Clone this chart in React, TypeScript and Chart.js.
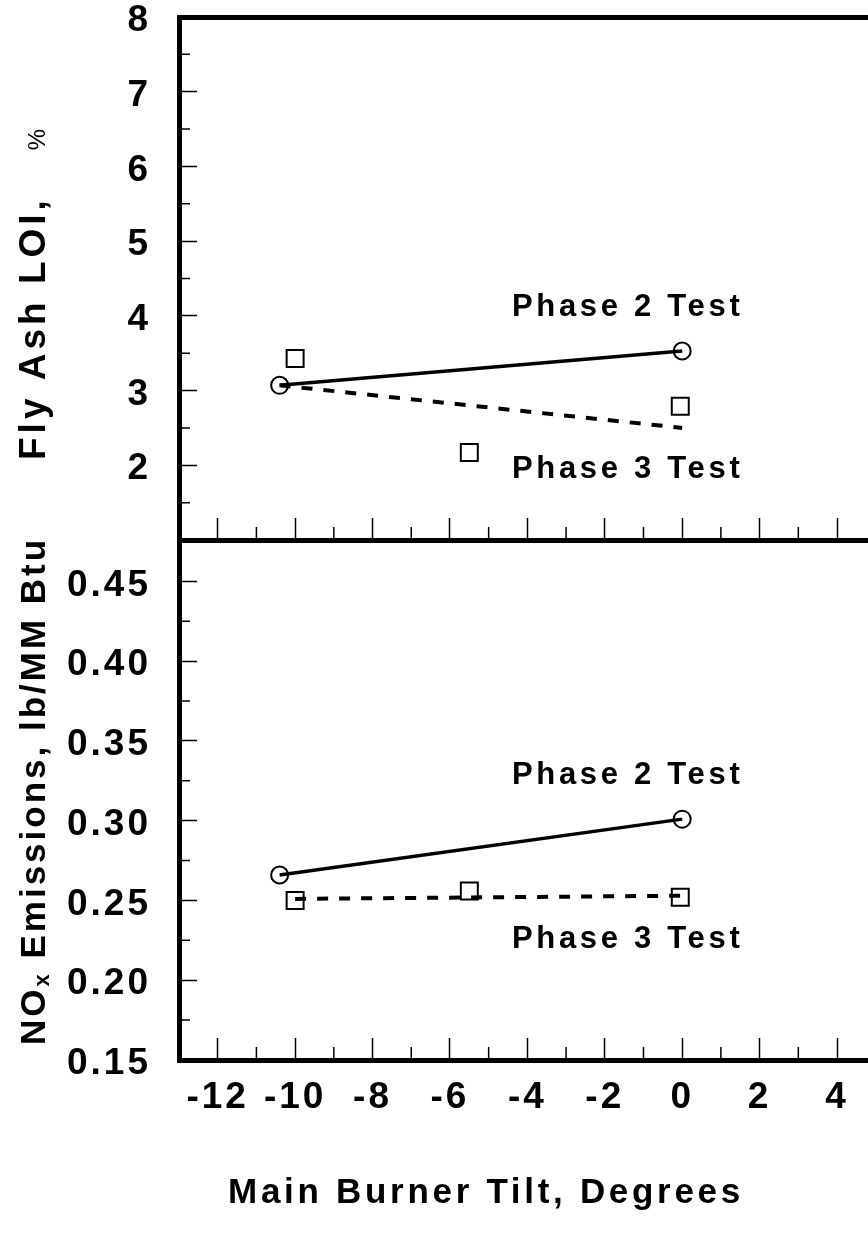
import React, { useEffect, useRef } from 'react';
import { Chart, registerables } from 'chart.js';

Chart.register(...registerables);

const FONT = "'Liberation Sans', Arial, Helvetica, sans-serif";

// ---------- axis ranges & ticks ----------
const X_MIN = -13;
const X_MAX = 4.8;
const xTickValues = [-12, -10, -8, -6, -4, -2, 0, 2, 4];
const xTickLabels = ['-12', '-10', '-8', '-6', '-4', '-2', '0', '2', '4'];
const xMinorTicks = [-11, -9, -7, -5, -3, -1, 1, 3];

const LOI_MIN = 1;
const LOI_MAX = 8;
const loiTickValues = [2, 3, 4, 5, 6, 7, 8];
const loiTickLabels = ['2', '3', '4', '5', '6', '7', '8'];
const loiMinorTicks = [1.5, 2.5, 3.5, 4.5, 5.5, 6.5, 7.5];

const NOX_MIN = 0.15;
const NOX_MAX = 0.476;
const noxTickValues = [0.15, 0.2, 0.25, 0.3, 0.35, 0.4, 0.45];
const noxTickLabels = ['0.15', '0.20', '0.25', '0.30', '0.35', '0.40', '0.45'];
const noxMinorTicks = [0.175, 0.225, 0.275, 0.325, 0.375, 0.425];

// ---------- data: Fly ash LOI (%) ----------
const loiPhase2Tilt = [-10.4, 0];
const loiPhase2 = [3.07, 3.53];
const loiPhase3Tilt = [-10, -5.5, -0.05];
const loiPhase3 = [3.43, 2.17, 2.79];
const loiPhase3FitTilt = [-10.4, 0];
const loiPhase3Fit = [3.07, 2.5];

// ---------- data: NOx (lb/MM Btu) ----------
const noxPhase2Tilt = [-10.4, 0];
const noxPhase2 = [0.266, 0.301];
const noxPhase3Tilt = [-10, -5.5, -0.05];
const noxPhase3 = [0.25, 0.256, 0.252];
const noxPhase3FitTilt = [-10, 0];
const noxPhase3Fit = [0.251, 0.253];

// ---------- text labels ----------
const loiNotes = [
  { text: 'Phase 2 Test', x: -4.4, y: 4.0 },
  { text: 'Phase 3 Test', x: -4.4, y: 1.83 },
];
const noxNotes = [
  { text: 'Phase 2 Test', x: -4.4, y: 0.323 },
  { text: 'Phase 3 Test', x: -4.4, y: 0.22 },
];

const pts = (xs: number[], ys: number[]) => xs.map((x, i) => ({ x, y: ys[i] }));

const spacingPlugin = {
  id: 'spacing',
  beforeDraw(chart: any) {
    chart.ctx.letterSpacing = '3px';
  },
};

const minorTicksPlugin = {
  id: 'minorTicks',
  afterDraw(chart: any, _a: any, opts: any) {
    const { ctx, chartArea } = chart;
    const xs = chart.scales.x;
    const ys = chart.scales.y;
    ctx.save();
    ctx.strokeStyle = '#000';
    ctx.lineWidth = 1.5;
    ctx.beginPath();
    for (const v of opts.x) {
      const px = xs.getPixelForValue(v);
      ctx.moveTo(px, chartArea.bottom);
      ctx.lineTo(px, chartArea.bottom - opts.xLen);
    }
    for (const v of opts.y) {
      const py = ys.getPixelForValue(v);
      ctx.moveTo(chartArea.left, py);
      ctx.lineTo(chartArea.left + opts.yLen, py);
    }
    ctx.stroke();
    ctx.restore();
  },
};

const notesPlugin = {
  id: 'notes',
  afterDatasetsDraw(chart: any, _a: any, opts: any) {
    const { ctx } = chart;
    const xs = chart.scales.x;
    const ys = chart.scales.y;
    ctx.save();
    ctx.letterSpacing = '3.7px';
    ctx.font = `bold 31px ${FONT}`;
    ctx.fillStyle = '#000';
    ctx.textAlign = 'left';
    ctx.textBaseline = 'alphabetic';
    for (const n of opts.items) {
      ctx.fillText(n.text, xs.getPixelForValue(n.x), ys.getPixelForValue(n.y));
    }
    ctx.restore();
  },
};

// draws axis titles; "start" anchoring puts the beginning of the text at (x, y)
const titlesPlugin = {
  id: 'titles',
  afterDraw(chart: any, _a: any, opts: any) {
    const { ctx } = chart;
    ctx.save();
    ctx.fillStyle = '#000';
    ctx.textAlign = 'left';
    ctx.textBaseline = 'alphabetic';
    for (const t of opts.items) {
      const widths: number[] = [];
      let total = 0;
      for (const s of t.segments) {
        ctx.font = s.font;
        ctx.letterSpacing = s.spacing;
        const w = ctx.measureText(s.text).width + (s.dx || 0);
        widths.push(w);
        total += w;
      }
      ctx.save();
      ctx.translate(t.x, t.y);
      if (t.rotate) ctx.rotate(-Math.PI / 2);
      let x = t.align === 'start' ? 0 : -total / 2;
      t.segments.forEach((s: any, i: number) => {
        ctx.font = s.font;
        ctx.letterSpacing = s.spacing;
        ctx.fillText(s.text, x + (s.dx || 0), s.dy || 0);
        x += widths[i];
      });
      ctx.restore();
    }
    ctx.restore();
  },
};

const tickFont = { family: FONT, size: 37, weight: 'bold' as const, lineHeight: 0.9 };

function xScale(height: number, showLabels: boolean) {
  return {
    type: 'linear',
    position: 'bottom',
    min: X_MIN,
    max: X_MAX,
    afterBuildTicks: (s: any) => {
      s.ticks = xTickValues.map((value) => ({ value }));
    },
    ticks: {
      display: showLabels,
      callback: (_v: any, i: number) => xTickLabels[i],
      font: tickFont,
      color: '#000',
      padding: 43,
      autoSkip: false,
      maxRotation: 0,
      minRotation: 0,
    },
    grid: {
      display: true,
      drawOnChartArea: false,
      drawTicks: true,
      tickLength: -22,
      tickWidth: 1.5,
      tickColor: '#000',
    },
    border: { display: true, width: 5, color: '#000' },
    afterFit: (s: any) => {
      s.height = height;
      s.paddingLeft = 0;
      s.paddingRight = 0;
    },
  };
}

function yScale(min: number, max: number, values: number[], labels: string[]) {
  return {
    type: 'linear',
    position: 'left',
    min,
    max,
    afterBuildTicks: (s: any) => {
      s.ticks = values.map((value) => ({ value }));
    },
    ticks: {
      callback: (_v: any, i: number) => labels[i],
      font: tickFont,
      color: '#000',
      padding: 46,
      labelOffset: 4,
    },
    grid: {
      display: true,
      drawOnChartArea: false,
      drawTicks: true,
      tickLength: -18,
      tickWidth: 1.5,
      tickColor: '#000',
    },
    border: { display: true, width: 5, color: '#000' },
    afterFit: (s: any) => {
      s.width = 179;
      s.paddingTop = 0;
      s.paddingBottom = 0;
    },
  };
}

function datasets(
  p2x: number[], p2y: number[], p3x: number[], p3y: number[], fx: number[], fy: number[]
) {
  return [
    {
      label: 'Phase 2 Test',
      data: pts(p2x, p2y),
      showLine: true,
      borderColor: '#000',
      borderWidth: 3.5,
      pointStyle: 'circle',
      pointRadius: 8.5,
      pointBorderWidth: 2,
      pointBorderColor: '#000',
      pointBackgroundColor: 'rgba(0,0,0,0)',
    },
    {
      label: 'Phase 3 Test',
      data: pts(p3x, p3y),
      showLine: false,
      pointStyle: 'rect',
      pointRadius: 12,
      pointBorderWidth: 2,
      pointBorderColor: '#000',
      pointBackgroundColor: 'rgba(0,0,0,0)',
    },
    {
      label: 'Phase 3 Trend',
      data: pts(fx, fy),
      showLine: true,
      borderColor: '#000',
      borderWidth: 4,
      borderDash: [11, 11],
      pointRadius: 0,
    },
  ];
}

const BOTTOM_TOP = 515;

export default function App() {
  const topRef = useRef<HTMLCanvasElement>(null);
  const botRef = useRef<HTMLCanvasElement>(null);

  useEffect(() => {
    const top = new Chart(topRef.current as HTMLCanvasElement, {
      type: 'scatter',
      data: {
        datasets: datasets(loiPhase2Tilt, loiPhase2, loiPhase3Tilt, loiPhase3, loiPhase3FitTilt, loiPhase3Fit) as any,
      },
      options: {
        responsive: false,
        animation: false,
        events: [],
        layout: { autoPadding: false, padding: { top: 17, left: 0, right: 0, bottom: 0 } },
        scales: {
          x: xScale(5, false) as any,
          xTop: {
            type: 'linear',
            position: 'top',
            min: X_MIN,
            max: X_MAX,
            ticks: { display: false },
            grid: { display: false, drawTicks: false },
            border: { display: true, width: 5, color: '#000' },
            afterFit: (s: any) => {
              s.height = 0;
              s.paddingLeft = 0;
              s.paddingRight = 0;
            },
          } as any,
          y: yScale(LOI_MIN, LOI_MAX, loiTickValues, loiTickLabels) as any,
        },
        plugins: {
          legend: { display: false },
          tooltip: { enabled: false },
          minorTicks: { x: xMinorTicks, y: loiMinorTicks, xLen: 13, yLen: 11 },
          notes: { items: loiNotes },
          titles: {
            items: [
              {
                x: 45,
                y: 460,
                rotate: true,
                align: 'start',
                segments: [
                  { text: 'Fly Ash LOI,', font: `bold 37px ${FONT}`, spacing: '4px' },
                  { text: '%', font: `24px ${FONT}`, spacing: '0px', dx: 46 },
                ],
              },
            ],
          },
        } as any,
      },
      plugins: [spacingPlugin, minorTicksPlugin, notesPlugin, titlesPlugin],
    });

    const bot = new Chart(botRef.current as HTMLCanvasElement, {
      type: 'scatter',
      data: {
        datasets: datasets(noxPhase2Tilt, noxPhase2, noxPhase3Tilt, noxPhase3, noxPhase3FitTilt, noxPhase3Fit) as any,
      },
      options: {
        responsive: false,
        animation: false,
        events: [],
        layout: { autoPadding: false, padding: { top: 540 - BOTTOM_TOP, left: 0, right: 0, bottom: 0 } },
        scales: {
          x: xScale(1235 - BOTTOM_TOP - (1060 - BOTTOM_TOP), true) as any,
          y: yScale(NOX_MIN, NOX_MAX, noxTickValues, noxTickLabels) as any,
        },
        plugins: {
          legend: { display: false },
          tooltip: { enabled: false },
          minorTicks: { x: xMinorTicks, y: noxMinorTicks, xLen: 13, yLen: 11 },
          notes: { items: noxNotes },
          titles: {
            items: [
              {
                x: 45,
                y: 1045 - BOTTOM_TOP,
                rotate: true,
                align: 'start',
                segments: [
                  { text: 'NO', font: `bold 35px ${FONT}`, spacing: '3px' },
                  { text: 'x', font: `bold 22px ${FONT}`, spacing: '3px', dy: 4 },
                  { text: ' Emissions, lb/MM Btu', font: `bold 35px ${FONT}`, spacing: '3px' },
                ],
              },
              {
                x: 486,
                y: 1203 - BOTTOM_TOP,
                rotate: false,
                align: 'center',
                segments: [
                  { text: 'Main Burner Tilt, Degrees', font: `bold 35px ${FONT}`, spacing: '3.7px' },
                ],
              },
            ],
          },
        } as any,
      },
      plugins: [spacingPlugin, minorTicksPlugin, notesPlugin, titlesPlugin],
    });

    return () => {
      top.destroy();
      bot.destroy();
    };
  }, []);

  return (
    <div
      style={{
        position: 'fixed',
        left: 0,
        top: 0,
        width: 868,
        height: 1245,
        background: '#fff',
        overflow: 'hidden',
      }}
    >
      <canvas
        ref={botRef}
        width={868}
        height={1235 - BOTTOM_TOP}
        style={{ position: 'absolute', left: 0, top: BOTTOM_TOP }}
      />
      <canvas ref={topRef} width={868} height={545} style={{ position: 'absolute', left: 0, top: 0 }} />
    </div>
  );
}
